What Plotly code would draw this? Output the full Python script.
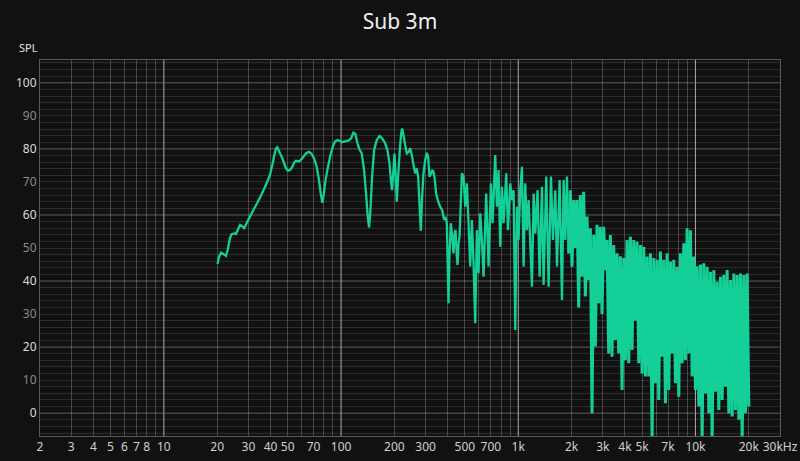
import math
import plotly.graph_objects as go

# ---------------- data ----------------
title_text = "Sub 3m"
y_title = "SPL"

# smooth low-frequency part (Hz, dB)
freq_lf = [20.1, 20.45, 21.0, 21.64, 22.4, 22.9, 23.6, 24.1, 24.9, 25.5, 26.1, 26.9, 27.6, 28.4, 29.3,
           30.6, 32.0, 33.4, 34.9, 36.4, 38.0, 39.7, 41.1, 42.0, 42.9, 43.7, 44.6, 46.2, 47.6, 48.9,
           50.2, 51.5, 52.9, 54.3, 55.7, 57.7, 59.2, 61.3, 63.4, 65.7, 68.0, 70.4, 72.9, 74.8, 76.8,
           78.4, 79.8, 81.5, 83.7, 86.7, 89.7, 92.5, 95.3, 98.7, 100.9, 105.3, 110.0, 113.9, 117.4, 120.5,
           123.7, 126.9, 130.9, 134.9, 138.4, 141.5, 143.9, 146.5, 149.7, 153.6, 159.1, 164.7, 170.4, 177.3, 182.8,
           187.6, 191.7, 194.1, 197.5, 200.1, 202.7, 206.3, 209.9, 214.5, 218.3, 221.1, 225.0, 229.9, 235.0, 241.2,
           245.4, 250.8, 256.3, 261.8, 267.6, 272.3, 277.0, 281.9, 286.8, 291.8, 298.2, 304.8, 310.1, 315.5, 322.4,
           326.6, 332.3, 338.2, 344.1, 351.6, 362.4, 372.0, 381.8, 388.5, 395.3]
spl_lf = [45.2, 47.2, 48.6, 48.2, 47.6, 49.4, 52.9, 54.2, 54.4, 54.2, 55.4, 57.0, 56.6, 56.0, 57.5,
          59.5, 61.5, 63.3, 65.3, 67.3, 69.6, 72.1, 75.6, 78.1, 80.1, 80.5, 79.4, 77.6, 75.8, 74.1,
          73.4, 73.6, 74.4, 75.8, 76.4, 76.2, 76.6, 77.6, 78.6, 79.1, 78.6, 77.1, 74.6, 71.1, 66.5,
          63.7, 66.0, 70.1, 73.6, 77.6, 80.6, 82.2, 82.7, 82.4, 82.0, 82.3, 82.5, 83.2, 84.9, 84.5,
          81.7, 79.9, 78.6, 73.6, 66.5, 59.5, 56.2, 61.5, 71.6, 79.6, 82.7, 83.9, 83.2, 81.7, 79.6,
          75.6, 69.6, 67.5, 73.6, 78.6, 73.6, 64.0, 71.6, 79.6, 84.7, 86.2, 84.2, 81.2, 78.6, 79.1,
          80.2, 78.1, 75.1, 72.6, 74.1, 71.6, 63.5, 55.2, 65.5, 72.6, 76.6, 78.8, 77.6, 71.6, 72.6,
          73.6, 73.1, 70.6, 66.5, 64.5, 62.5, 61.5, 58.5, 59.5, 57.5]

# jagged mid part (Hz, dB)
freq_mid = [404.0, 409.3, 416.5, 423.8, 431.1, 436.8, 442.5, 450.3, 454.2, 460.2, 466.2, 472.3, 480.6,
            491.1, 501.9, 512.9, 524.1, 535.6, 547.4, 559.3, 571.6, 584.2, 597.0, 610.1, 623.5, 637.1,
            659.6, 679.9, 700.9, 716.2, 741.5, 757.8, 774.3, 791.3, 808.7, 826.3, 855.5, 874.3, 901.4,
            921.2, 941.3, 961.7, 982.9, 1004, 1026, 1049, 1072, 1095, 1119, 1144, 1195, 1221, 1248,
            1286, 1320, 1361, 1390, 1439, 1484, 1530, 1570, 1618, 1654, 1712, 1765, 1803, 1843, 1883, 1925]
spl_mid = [33.3, 48.4, 57.5, 53.4, 48.4, 54.4, 55.4, 47.4, 44.9, 51.4, 53.4, 61.5, 72.6,
           71.6, 62.5, 69.6, 57.5, 44.4, 58.5, 45.4, 27.2, 55.4, 42.4, 60.5, 52.4, 41.3,
           66.5, 44.4, 69.6, 57.5, 78.1, 62.5, 73.6, 50.4, 68.5, 57.5, 72.6, 55.4, 69.6,
           64.5, 67.5, 25.2, 62.5, 52.4, 67.5, 74.6, 44.4, 69.6, 55.4, 64.5, 38.3, 66.5, 54.4,
           67.5, 41.3, 68.5, 38.8, 71.6, 38.3, 71.6, 52.4, 67.5, 44.4, 70.6, 34.3, 70.6, 52.4, 71.6, 48.4]

# dense high-frequency part (Hz, dB)
freq_hf = [1967, 2010, 2054, 2099, 2145, 2192, 2240, 2289, 2339, 2391, 2443, 2497,
           2552, 2608, 2665, 2723, 2783, 2844, 2906, 2970, 3035, 3101, 3169, 3238,
           3310, 3382, 3457, 3532, 3610, 3689, 3770, 3853, 3937, 4023, 4111, 4201,
           4294, 4388, 4484, 4582, 4683, 4785, 4891, 4998, 5108, 5219, 5333, 5450,
           5570, 5692, 5817, 5944, 6074, 6207, 6343, 6482, 6624, 6770, 6918, 7070,
           7225, 7383, 7545, 7710, 7879, 8052, 8228, 8408, 8593, 8781, 8974, 9171,
           9371, 9577, 9787, 10000, 10219, 10443, 10672, 10906, 11145, 11390, 11640, 11895,
           12155, 12422, 12694, 12972, 13257, 13547, 13843, 14147, 14457, 14773, 15097, 15428,
           15766, 16112, 16465, 16826, 17195, 17572, 17957, 18351, 18753, 19163, 19584, 20000]
spl_hf = [67.5, 44.3, 64.5, 50.0, 64.5, 32.0, 66.0, 41.3, 67.0, 35.3, 59.5, 40.3,
          56.0, 0.0, 54.0, 20.2, 57.0, 33.3, 56.4, 30.0, 56.4, 43.3, 52.4, 18.1,
          53.9, 17.1, 50.9, 22.2, 48.4, 18.1, 47.5, 7.0, 47.0, 16.1, 52.4, 15.1,
          53.4, 19.1, 52.4, 28.0, 51.9, 15.1, 50.9, 12.0, 50.4, 11.1, 47.4, 11.1,
          48.4, -9.0, 47.0, 9.1, 46.4, 4.0, 48.9, 17.1, 46.4, 3.0, 48.4, 7.0,
          45.9, 18.1, 46.4, 9.1, 44.3, 5.0, 48.4, 15.1, 51.4, 16.1, 56.0, 18.1,
          55.4, 11.1, 47.4, 7.0, 44.5, 2.0, 45.0, -9.0, 45.4, 6.0, 44.3, 0.0,
          42.8, -9.0, 43.3, 6.5, 39.8, 1.0, 41.3, 4.0, 41.8, 8.0, 43.3, 0.0,
          40.3, -1.0, 42.3, 1.0, 41.8, -2.0, 42.3, -9.0, 41.8, 0.0, 42.3, 2.0]

x_tick_vals = [2, 3, 4, 5, 6, 7, 8, 10, 20, 30, 40, 50, 70, 100, 200, 300, 500, 700,
               1000, 2000, 3000, 4000, 5000, 7000, 10000, 20000, 30000]
x_tick_text = ["2", "3", "4", "5", "6", "7", "8", "10", "20", "30", "40", "50", "70", "100",
               "200", "300", "500", "700", "1k", "2k", "3k", "4k", "5k", "7k", "10k", "20k", "30kHz"]
y_tick_vals = [0, 10, 20, 30, 40, 50, 60, 70, 80, 90, 100]

x_min, x_max = 2, 30000
y_min, y_max = -6.9, 106.9

# ---------------- styling ----------------
BG = "#111111"
LINE = "#14CF97"
MINOR_V = "rgba(255,255,255,0.22)"
MINOR_H = "rgba(255,255,255,0.11)"
DECADE = "#aaaaaa"
MAJOR_H = "#5c5c5c"
BORDER = "#5a5a5a"
FONT = "Noto Sans"

fig = go.Figure()
# low + mid part of the response
fig.add_trace(go.Scatter(x=freq_lf + freq_mid, y=spl_lf + spl_mid, mode="lines",
                         line=dict(color=LINE, width=2.3, simplify=False),
                         hoverinfo="skip", showlegend=False))
# dense high-frequency part (continues from the last mid point)
fig.add_trace(go.Scatter(x=freq_mid[-1:] + freq_hf, y=spl_mid[-1:] + spl_hf, mode="lines",
                         line=dict(color=LINE, width=3.0, simplify=False),
                         hoverinfo="skip", showlegend=False))

decades = [10, 100, 1000, 10000]
minor_x = [m * 10 ** e for e in range(0, 5) for m in range(2, 10)
           if x_min <= m * 10 ** e <= x_max]
major_y = [0, 20, 40, 60, 80, 100]
minor_y = [v for v in range(-6, 107, 2) if v not in major_y]

y_tick_text = []
for v in y_tick_vals:
    if v % 20 == 0:
        y_tick_text.append(str(v))
    else:
        y_tick_text.append('<span style="color:#8a8a8a">%d</span>' % v)

shapes = []
for v in major_y:
    shapes.append(dict(type="line", xref="paper", yref="y", x0=0, x1=1, y0=v, y1=v,
                       layer="below", line=dict(color=MAJOR_H, width=1)))
for d in decades:
    shapes.append(dict(type="line", xref="x", yref="paper", x0=d, x1=d, y0=0, y1=1,
                       layer="below", line=dict(color=DECADE, width=1)))

fig.update_layout(
    width=800, height=461,
    margin=dict(l=40, r=20, t=60, b=25, autoexpand=False),
    paper_bgcolor=BG, plot_bgcolor=BG,
    font=dict(family=FONT, color="#d8d8d8", size=12),
    title=dict(text=title_text, x=0.5, xanchor="center", y=1 - 22 / 461, yanchor="middle",
               font=dict(family=FONT, size=21, color="#f0f0f0"), automargin=False),
    shapes=shapes,
    annotations=[dict(text=y_title, xref="paper", yref="paper", x=-0.016, y=1.032,
                      xanchor="center", yanchor="middle", showarrow=False,
                      font=dict(family=FONT, size=11, color="#e0e0e0"))],
    xaxis=dict(type="log", range=[math.log10(x_min), math.log10(x_max)],
               tickmode="array", tickvals=x_tick_vals, ticktext=x_tick_text,
               showgrid=False, zeroline=False, ticks="", automargin=False,
               tickfont=dict(family=FONT, size=12, color="#d0d0d0"),
               showline=True, mirror=True, linecolor=BORDER, linewidth=1,
               minor=dict(tickmode="array", tickvals=minor_x, showgrid=True,
                          gridcolor=MINOR_V, gridwidth=1, ticks="")),
    yaxis=dict(range=[y_min, y_max], tickmode="array", tickvals=y_tick_vals,
               ticktext=y_tick_text, showgrid=False, zeroline=False, ticks="", automargin=False,
               tickfont=dict(family=FONT, size=12, color="#dcdcdc"),
               showline=True, mirror=True, linecolor=BORDER, linewidth=1,
               minor=dict(tickmode="array", tickvals=minor_y, showgrid=True,
                          gridcolor=MINOR_H, gridwidth=1, ticks="")),
)

fig.write_html(
    "out.html",
    config={"displayModeBar": False},
    post_script="document.body.style.margin='0px';document.body.style.background='#111111';",
)
